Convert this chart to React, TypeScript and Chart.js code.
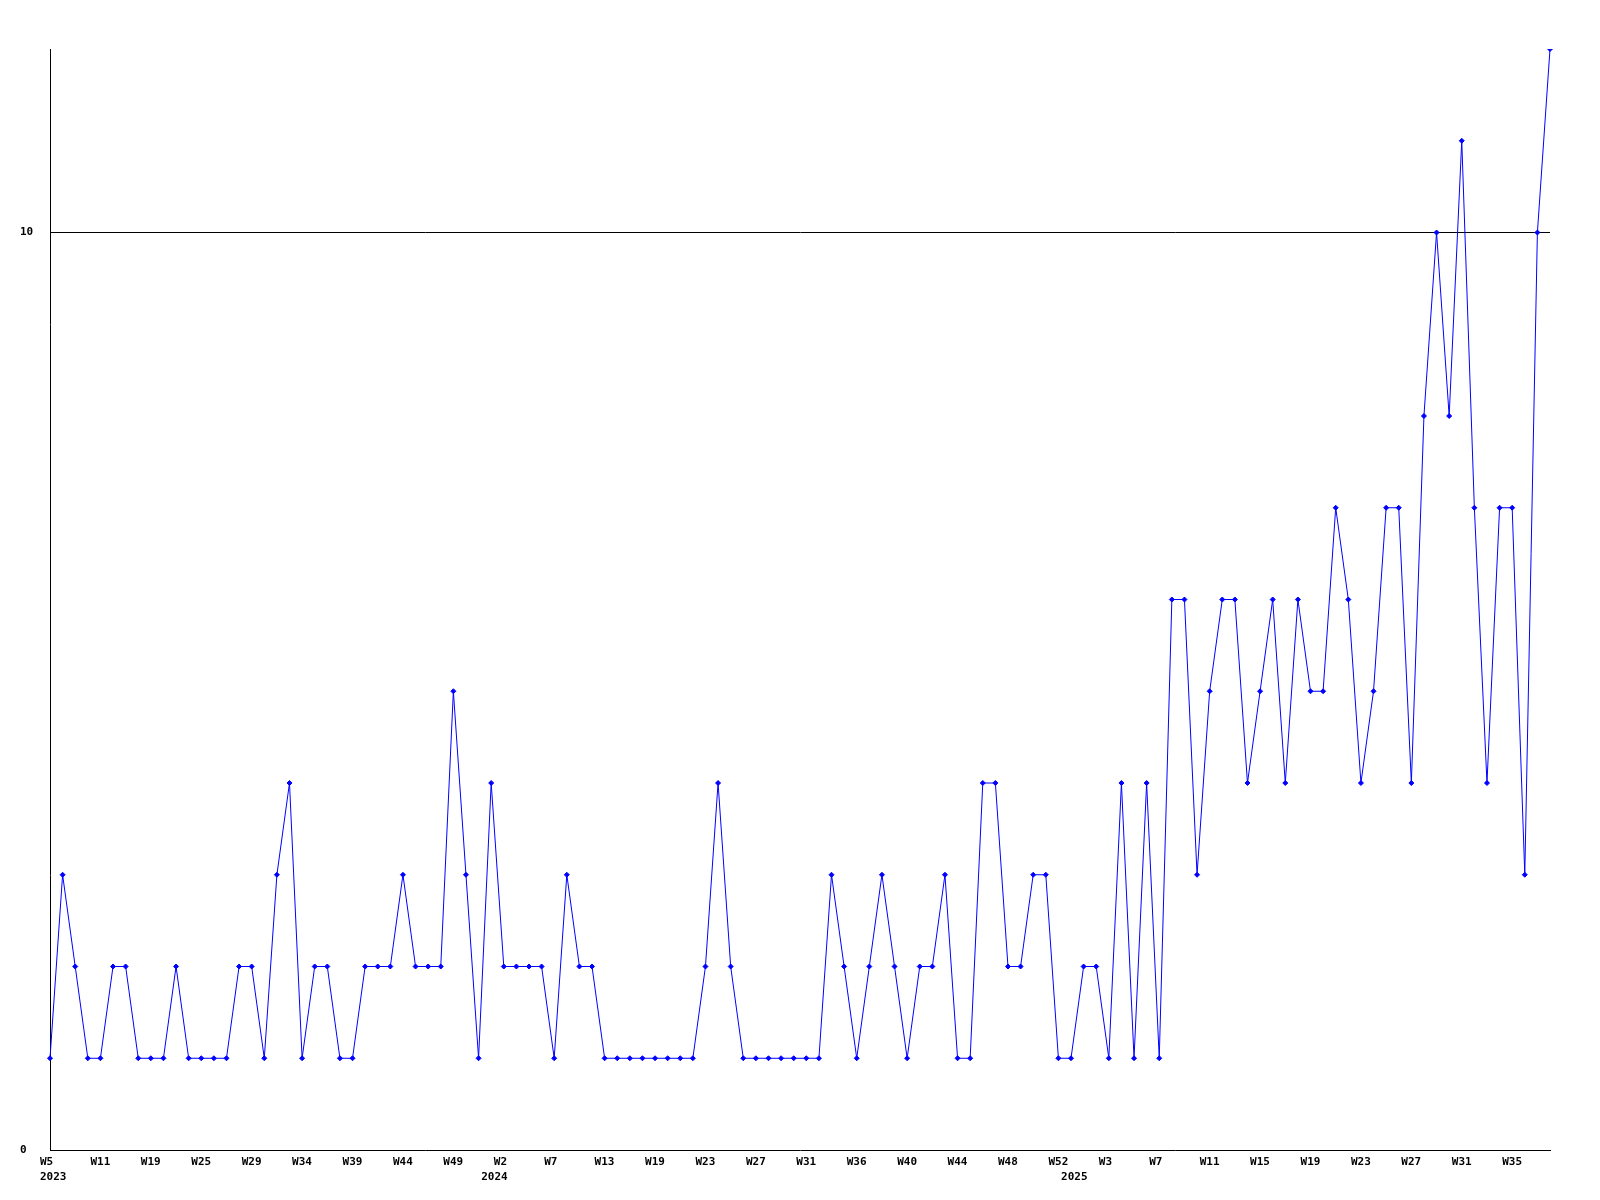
import React, { useEffect, useRef } from "react";
import { Chart, registerables } from "chart.js";

Chart.register(...registerables);

// Weekly counts (120 points)
const seriesValues: number[] = [
  1, 3, 2, 1, 1, 2, 2, 1, 1, 1, 2, 1, 1, 1, 1, 2, 2, 1, 3, 4,
  1, 2, 2, 1, 1, 2, 2, 2, 3, 2, 2, 2, 5, 3, 1, 4, 2, 2, 2, 2,
  1, 3, 2, 2, 1, 1, 1, 1, 1, 1, 1, 1, 2, 4, 2, 1, 1, 1, 1, 1,
  1, 1, 3, 2, 1, 2, 3, 2, 1, 2, 2, 3, 1, 1, 4, 4, 2, 2, 3, 3,
  1, 1, 2, 2, 1, 4, 1, 4, 1, 6, 6, 3, 5, 6, 6, 4, 5, 6, 4, 6,
  5, 5, 7, 6, 4, 5, 7, 7, 4, 8, 10, 8, 11, 7, 4, 7, 7, 3, 10, 12,
];

// Week tick labels, one every 4 points
const weekLabels: string[] = [
  "W5", "W11", "W19", "W25", "W29", "W34", "W39", "W44", "W49", "W2",
  "W7", "W13", "W19", "W23", "W27", "W31", "W36", "W40", "W44", "W48",
  "W52", "W3", "W7", "W11", "W15", "W19", "W23", "W27", "W31", "W35",
];
const weekLabelStep = 4;

// Year labels and the point index they sit under
const yearLabels: string[] = ["2023", "2024", "2025"];
const yearIndexes: number[] = [0, 35, 81];

// Y tick values
const yTickValues: number[] = [0, 10];
const yMax = 12;

export default function App() {
  const canvasRef = useRef<HTMLCanvasElement | null>(null);

  useEffect(() => {
    if (!canvasRef.current) return;

    const categories: string[][] = seriesValues.map((_, i) => {
      const week = i % weekLabelStep === 0 ? weekLabels[i / weekLabelStep] ?? "" : "";
      const yi = yearIndexes.indexOf(i);
      const year = yi >= 0 ? yearLabels[yi] : "";
      return year ? [week, year] : [week];
    });

    const font = { family: "'DejaVu Sans Mono', monospace", size: 11, weight: "bold" as const, lineHeight: "15px" };

    const chart = new Chart(canvasRef.current, {
      type: "line",
      data: {
        labels: categories,
        datasets: [
          {
            data: seriesValues,
            borderColor: "#0000ff",
            borderWidth: 1,
            backgroundColor: "#0000ff",
            pointStyle: "rectRot",
            pointRadius: 2.5,
            pointBorderWidth: 1,
            pointBackgroundColor: "#0000ff",
            pointBorderColor: "#0000ff",
            tension: 0,
            fill: false,
          },
        ],
      },
      options: {
        animation: false,
        responsive: false,
        layout: { padding: { top: 49, right: 50, left: 20, bottom: 0 } },
        plugins: {
          legend: { display: false },
          tooltip: { enabled: false },
          title: { display: false },
        },
        scales: {
          x: {
            type: "category",
            offset: false,
            grid: { display: false, drawTicks: false },
            border: { display: true, color: "#000000", width: 1 },
            ticks: {
              autoSkip: false,
              maxRotation: 0,
              minRotation: 0,
              padding: 5,
              align: "start",
              labelOffset: -10,
              color: "#000000",
              font,
            },
            afterFit: (scale: any) => {
              scale.height = 50;
            },
          },
          y: {
            min: 0,
            max: yMax,
            grid: {
              drawTicks: false,
              color: (ctx: any) => (ctx.tick && ctx.tick.value === 10 ? "#000000" : "rgba(0,0,0,0)"),
              lineWidth: 1,
            },
            border: { display: true, color: "#000000", width: 1 },
            afterBuildTicks: (scale: any) => {
              scale.ticks = yTickValues.map((v) => ({ value: v }));
            },
            afterFit: (scale: any) => {
              scale.width = 30;
            },
            ticks: {
              crossAlign: "far",
              color: "#000000",
              font,
            },
          },
        },
      },
    });

    return () => {
      chart.destroy();
    };
  }, []);

  return (
    <div style={{ position: "absolute", left: 0, top: 0, width: 1600, height: 1200, background: "#ffffff" }}>
      <canvas ref={canvasRef} width={1600} height={1200} style={{ display: "block" }} />
    </div>
  );
}
